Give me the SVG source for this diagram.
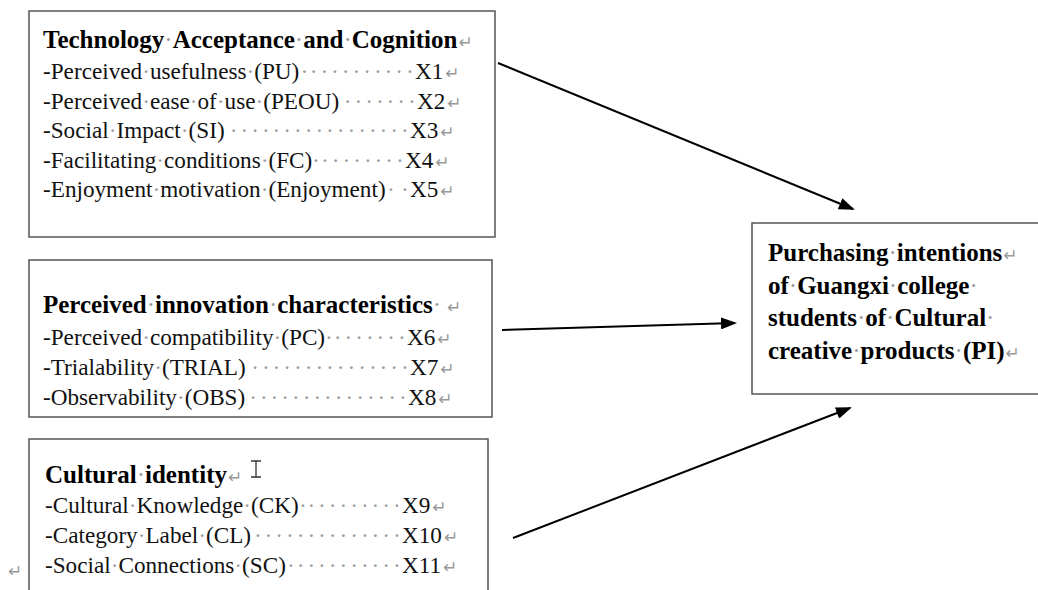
<svg xmlns="http://www.w3.org/2000/svg" width="1038" height="590" viewBox="0 0 1038 590">
<style>
.box{fill:#fff;stroke:#555;stroke-width:1.5}
.r{font-family:"Liberation Serif","Times New Roman",serif;font-size:23.2px;fill:#111}
.b{font-family:"Liberation Serif","Times New Roman",serif;font-size:25px;font-weight:bold;fill:#000}
.m{fill:#999;font-weight:normal}
.ld{fill:#999}
.ret{font-family:"DejaVu Sans",sans-serif;font-size:17px;fill:#999;font-weight:normal}
.conn{stroke:#000;stroke-width:2;fill:none}
</style>
<defs>
<marker id="ah" markerWidth="8" markerHeight="6" refX="7" refY="3" orient="auto" markerUnits="strokeWidth">
<path d="M0,0 L8,3 L0,6 Z" fill="#000"/>
</marker>
</defs>
<rect width="1038" height="590" fill="#fff"/>

<g id="tac">
<rect class="box" x="29" y="11" width="466" height="226"/>
<text class="b" x="43" y="48">Technology<tspan class="m">·</tspan>Acceptance<tspan class="m">·</tspan>and<tspan class="m">·</tspan>Cognition<tspan class="ret" dx="1">↵</tspan></text>
<text class="r" y="79"><tspan x="43">-Perceived<tspan class="m">·</tspan>usefulness<tspan class="m">·</tspan>(PU)</tspan><tspan class="ld" x="300.5 309.7 320.4 331.1 341.8 352.5 363.2 373.9 384.6 395.3 406">···········</tspan><tspan x="415">X1</tspan><tspan class="ret" dx="2">↵</tspan></text>
<text class="r" y="108.5"><tspan x="43">-Perceived<tspan class="m">·</tspan>ease<tspan class="m">·</tspan>of<tspan class="m">·</tspan>use<tspan class="m">·</tspan>(PEOU)</tspan><tspan class="ld" x="343.8 354.5 365.2 375.9 386.6 397.3 408">·······</tspan><tspan x="417">X2</tspan><tspan class="ret" dx="2">↵</tspan></text>
<text class="r" y="138"><tspan x="43">-Social<tspan class="m">·</tspan>Impact<tspan class="m">·</tspan>(SI)</tspan><tspan class="ld" x="229.8 240.5 251.2 261.9 272.6 283.3 294 304.7 315.4 326.1 336.8 347.5 358.2 368.9 379.6 390.3 401">·················</tspan><tspan x="410">X3</tspan><tspan class="ret" dx="2">↵</tspan></text>
<text class="r" y="167.5"><tspan x="43">-Facilitating<tspan class="m">·</tspan>conditions<tspan class="m">·</tspan>(FC)</tspan><tspan class="ld" x="312 321.1 331.8 342.5 353.2 363.9 374.6 385.3 396">·········</tspan><tspan x="405">X4</tspan><tspan class="ret" dx="2">↵</tspan></text>
<text class="r" y="197"><tspan x="43">-Enjoyment<tspan class="m">·</tspan>motivation<tspan class="m">·</tspan>(Enjoyment)</tspan><tspan class="ld" x="387 401">··</tspan><tspan x="410">X5</tspan><tspan class="ret" dx="2">↵</tspan></text>
</g>

<g id="pic">
<rect class="box" x="29" y="260" width="463" height="157"/>
<text class="b" x="43" y="313">Perceived<tspan class="m">·</tspan>innovation<tspan class="m">·</tspan>characteristics<tspan class="m">·</tspan><tspan class="ret" dx="6">↵</tspan></text>
<text class="r" y="345"><tspan x="43">-Perceived<tspan class="m">·</tspan>compatibility<tspan class="m">·</tspan>(PC)</tspan><tspan class="ld" x="325 333.8 344.5 355.2 365.9 376.6 387.3 398">········</tspan><tspan x="407">X6</tspan><tspan class="ret" dx="2">↵</tspan></text>
<text class="r" y="375"><tspan x="43">-Trialability<tspan class="m">·</tspan>(TRIAL)</tspan><tspan class="ld" x="251.2 261.9 272.6 283.3 294 304.7 315.4 326.1 336.8 347.5 358.2 368.9 379.6 390.3 401">···············</tspan><tspan x="410">X7</tspan><tspan class="ret" dx="2">↵</tspan></text>
<text class="r" y="405"><tspan x="43">-Observability<tspan class="m">·</tspan>(OBS)</tspan><tspan class="ld" x="249.2 259.9 270.6 281.3 292 302.7 313.4 324.1 334.8 345.5 356.2 366.9 377.6 388.3 399">···············</tspan><tspan x="408">X8</tspan><tspan class="ret" dx="2">↵</tspan></text>
</g>

<g id="ci">
<rect class="box" x="29" y="439" width="459" height="170"/>
<text class="b" x="45" y="483">Cultural<tspan class="m">·</tspan>identity<tspan class="ret" dx="1">↵</tspan></text>
<path d="M251,461 H261 M256,461 V477 M251,477 H261" stroke="#333" stroke-width="1.3" fill="none"/>
<text class="r" y="513"><tspan x="45">-Cultural<tspan class="m">·</tspan>Knowledge<tspan class="m">·</tspan>(CK)</tspan><tspan class="ld" x="299 307.4 318.1 328.8 339.5 350.2 360.9 371.6 382.3 393">··········</tspan><tspan x="402">X9</tspan><tspan class="ret" dx="2">↵</tspan></text>
<text class="r" y="543"><tspan x="45">-Category<tspan class="m">·</tspan>Label<tspan class="m">·</tspan>(CL)</tspan><tspan class="ld" x="253.9 264.6 275.3 286 296.7 307.4 318.1 328.8 339.5 350.2 360.9 371.6 382.3 393">··············</tspan><tspan x="402">X10</tspan><tspan class="ret" dx="2">↵</tspan></text>
<text class="r" y="573"><tspan x="45">-Social<tspan class="m">·</tspan>Connections<tspan class="m">·</tspan>(SC)</tspan><tspan class="ld" x="287 296.7 307.4 318.1 328.8 339.5 350.2 360.9 371.6 382.3 393">···········</tspan><tspan x="402">X11</tspan><tspan class="ret" dx="2">↵</tspan></text>
</g>

<text class="ret" x="8" y="577">↵</text>

<g id="pi">
<rect class="box" x="752" y="223" width="300" height="171"/>
<text class="b" x="768" y="261">Purchasing<tspan class="m">·</tspan>intentions<tspan class="ret" dx="1">↵</tspan></text>
<text class="b" x="768" y="293.5">of<tspan class="m">·</tspan>Guangxi<tspan class="m">·</tspan>college<tspan class="m">·</tspan></text>
<text class="b" x="768" y="326">students<tspan class="m">·</tspan>of<tspan class="m">·</tspan>Cultural<tspan class="m">·</tspan></text>
<text class="b" x="768" y="358.5">creative<tspan class="m">·</tspan>products<tspan class="m">·</tspan>(PI)<tspan class="ret" dx="1">↵</tspan></text>
</g>

<g id="connectors">
<line class="conn" x1="498" y1="63" x2="853" y2="209" marker-end="url(#ah)"/>
<line class="conn" x1="502" y1="330" x2="735" y2="323" marker-end="url(#ah)"/>
<line class="conn" x1="513" y1="538" x2="850" y2="408" marker-end="url(#ah)"/>
</g>
</svg>
